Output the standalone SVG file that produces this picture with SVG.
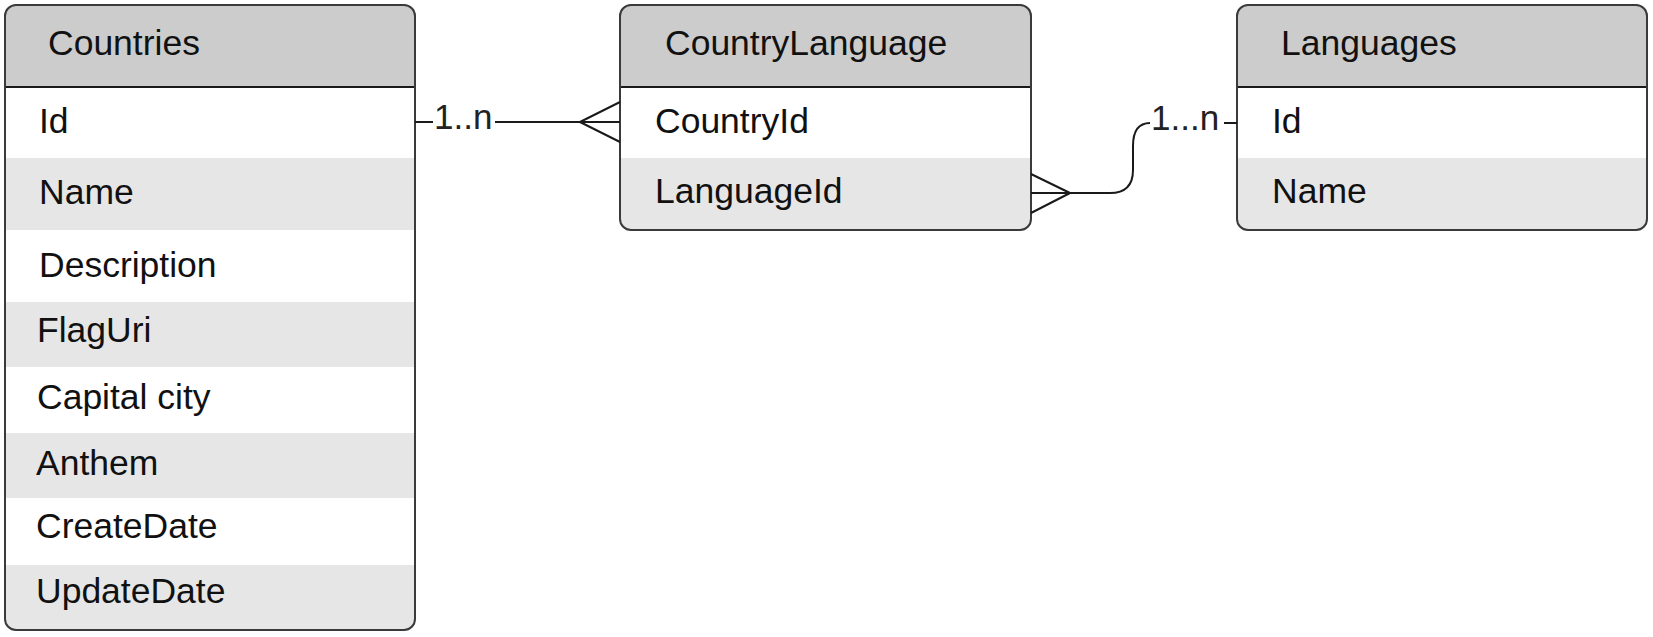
<svg xmlns="http://www.w3.org/2000/svg" width="1653" height="637" viewBox="0 0 1653 637">
<style>
.hdr{fill:#cccccc}
.alt{fill:#e6e6e6}
.wht{fill:#ffffff}
.frame{fill:none;stroke:#3a3a3a;stroke-width:2}
.sep{stroke:#1a1a1a;stroke-width:2}
text{font-family:"Liberation Sans",Arial,sans-serif;font-size:35.5px;fill:#111}
.lbl{font-size:35px;fill:#222}
.conn{fill:none;stroke:#1a1a1a;stroke-width:2}
</style>
<defs>
<clipPath id="cC"><rect x="5" y="5" width="410" height="625" rx="11"/></clipPath>
<clipPath id="cCL"><rect x="620" y="5" width="411" height="225" rx="11"/></clipPath>
<clipPath id="cL"><rect x="1237" y="5" width="410" height="225" rx="11"/></clipPath>
</defs>
<rect width="1653" height="637" fill="#ffffff"/>

<g id="countries">
<g clip-path="url(#cC)">
<rect class="hdr" x="5" y="5" width="410" height="82"/>
<rect class="wht" x="5" y="87" width="410" height="71"/>
<rect class="alt" x="5" y="158" width="410" height="72"/>
<rect class="wht" x="5" y="230" width="410" height="72"/>
<rect class="alt" x="5" y="302" width="410" height="65"/>
<rect class="wht" x="5" y="367" width="410" height="66"/>
<rect class="alt" x="5" y="433" width="410" height="65"/>
<rect class="wht" x="5" y="498" width="410" height="67"/>
<rect class="alt" x="5" y="565" width="410" height="65"/>
</g>
<line class="sep" x1="5" y1="87" x2="415" y2="87"/>
<rect class="frame" x="5" y="5" width="410" height="625" rx="11"/>
<text x="48" y="55">Countries</text>
<text x="39" y="133">Id</text>
<text x="39" y="204">Name</text>
<text x="39" y="277">Description</text>
<text x="37" y="342">FlagUri</text>
<text x="37" y="409">Capital city</text>
<text x="36" y="475">Anthem</text>
<text x="36" y="538">CreateDate</text>
<text x="36" y="603">UpdateDate</text>
</g>

<g id="countrylanguage">
<g clip-path="url(#cCL)">
<rect class="hdr" x="620" y="5" width="411" height="82"/>
<rect class="wht" x="620" y="87" width="411" height="71"/>
<rect class="alt" x="620" y="158" width="411" height="72"/>
</g>
<line class="sep" x1="620" y1="87" x2="1031" y2="87"/>
<rect class="frame" x="620" y="5" width="411" height="225" rx="11"/>
<text x="665" y="55">CountryLanguage</text>
<text x="655" y="133">CountryId</text>
<text x="655" y="203">LanguageId</text>
</g>

<g id="languages">
<g clip-path="url(#cL)">
<rect class="hdr" x="1237" y="5" width="410" height="82"/>
<rect class="wht" x="1237" y="87" width="410" height="71"/>
<rect class="alt" x="1237" y="158" width="410" height="72"/>
</g>
<line class="sep" x1="1237" y1="87" x2="1647" y2="87"/>
<rect class="frame" x="1237" y="5" width="410" height="225" rx="11"/>
<text x="1281" y="55">Languages</text>
<text x="1272" y="133">Id</text>
<text x="1272" y="203">Name</text>
</g>

<g id="connectors">
<path class="conn" d="M415,122 H433 M495,122 H620 M580,122 L620,102 M580,122 L620,142"/>
<text class="lbl" x="434" y="129">1..n</text>
<path class="conn" d="M1031,193 H1110 Q1133,193 1133,170 V146 Q1133,123 1150,123 M1070,193 L1031,174 M1070,193 L1031,213 M1224,123 H1237"/>
<text class="lbl" x="1151" y="130">1...n</text>
</g>
</svg>
